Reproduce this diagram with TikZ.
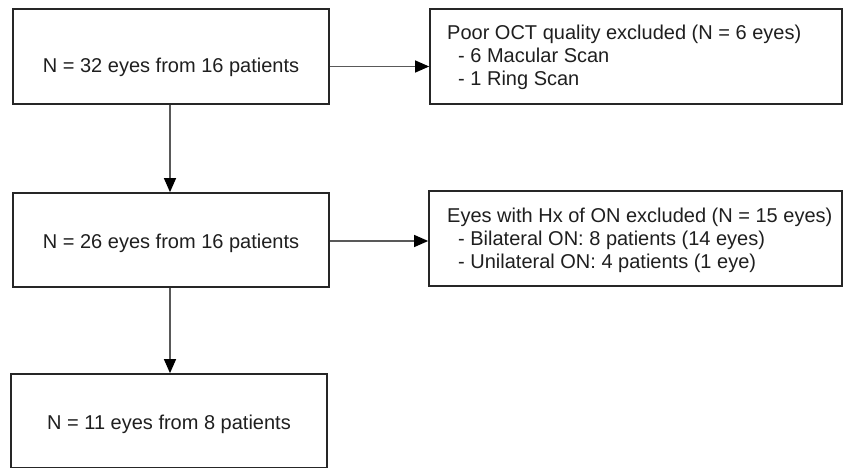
\documentclass[tikz,border=0pt]{standalone}
\usepackage{fontspec}
\setmainfont{Liberation Sans}
\usetikzlibrary{arrows.meta}
\begin{document}
\begin{tikzpicture}[x=1pt,y=-1pt,
  box/.style={draw=black!85, line width=1.7pt, fill=white, inner sep=0pt},
  txt/.style={font=\fontsize{20}{23}\selectfont, text=black!88, inner sep=0pt},
  list/.style={txt, align=left, anchor=west},
  arr/.style={draw=black!65, line width=1.2pt, -{Triangle[length=14pt,width=12pt,fill=black,color=black]}}]
  \useasboundingbox (0,0) rectangle (843,468);
  % left column
  \node[box, minimum width=316pt, minimum height=95pt] (b1) at (171,56.5) {};
  \node[txt, anchor=base] (t1) at (171,73) {N = 32 eyes from 16 patients};
  \node[box, minimum width=316pt, minimum height=94pt] (b2) at (171,240) {};
  \node[txt, anchor=base] (t2) at (171,248) {N = 26 eyes from 16 patients};
  \node[box, minimum width=316pt, minimum height=94pt] (b3) at (169,421) {};
  \node[txt, anchor=base] (t3) at (169,429) {N = 11 eyes from 8 patients};
  % right column
  \node[box, minimum width=412pt, minimum height=95pt] (r1) at (636,56.5) {};
  \node[list] (l1) at (447,57) {Poor OCT quality excluded (N = 6 eyes)\\
    \hspace*{11pt}- 6 Macular Scan\\
    \hspace*{11pt}- 1 Ring Scan};
  \node[box, minimum width=413pt, minimum height=95pt] (r2) at (635.5,238.5) {};
  \node[list] (l2) at (447,240) {Eyes with Hx of ON excluded (N = 15 eyes)\\
    \hspace*{11pt}- Bilateral ON: 8 patients (14 eyes)\\
    \hspace*{11pt}- Unilateral ON: 4 patients (1 eye)};
  % connectors
  \coordinate (h1) at (0,66.5);
  \coordinate (h2) at (0,241);
  \draw[arr] (b1.east |- h1) -- (r1.west |- h1);
  \draw[arr] (b2.east |- h2) -- (r2.west |- h2);
  \draw[arr] ([xshift=-1pt]b1.south) -- ([xshift=-1pt]b2.north);
  \draw[arr] ([xshift=-1pt]b2.south) -- ([xshift=-1pt]b2.south |- b3.north);
\end{tikzpicture}
\end{document}
